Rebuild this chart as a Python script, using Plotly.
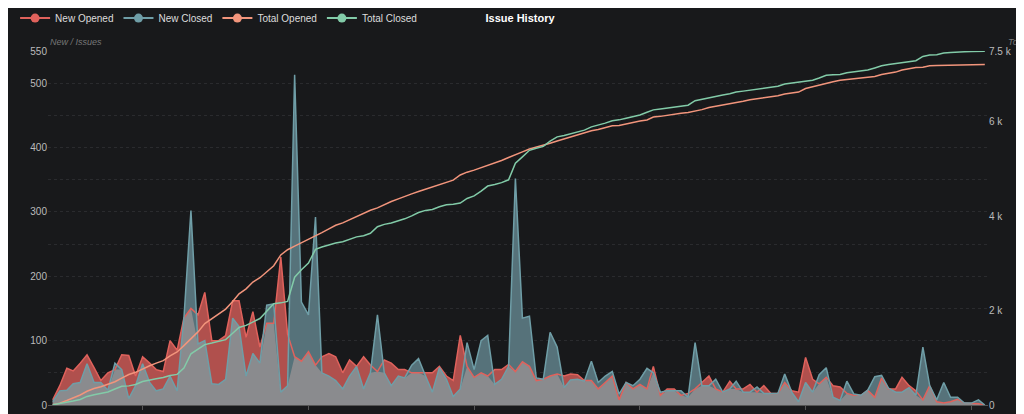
import plotly.graph_objects as go
import pandas as pd
import numpy as np

months = pd.date_range("2014-12-01", periods=136, freq="MS")
new_opened = [8,30,57,53,65,78,58,38,50,55,78,77,45,75,65,55,52,100,85,135,150,140,175,100,100,108,162,162,105,145,90,127,127,230,110,75,68,83,62,75,80,75,50,70,60,75,62,52,70,65,55,55,50,50,50,50,60,45,38,108,60,43,50,45,55,55,63,52,67,60,38,40,45,48,45,48,47,38,38,25,35,45,8,35,25,32,25,60,15,25,25,15,18,25,35,45,25,20,37,25,25,32,20,30,18,18,35,22,20,74,40,33,43,30,28,18,15,15,23,12,42,25,25,43,30,22,8,30,5,3,5,9,3,3,2,0]
new_closed = [5,22,23,33,35,64,35,35,23,65,55,10,30,64,35,22,25,45,22,135,302,95,100,33,32,40,135,122,45,80,65,155,157,20,30,513,160,140,292,50,45,38,25,45,60,25,50,140,50,30,45,42,62,72,45,20,58,40,13,25,97,55,100,108,32,40,60,352,135,138,42,40,113,90,27,39,40,37,68,35,45,52,17,35,30,40,57,50,20,22,22,22,12,97,30,30,40,20,25,37,20,20,28,18,18,18,48,20,5,35,20,47,58,12,7,37,17,15,23,44,46,26,20,20,27,15,90,30,8,35,12,12,3,3,8,0]
total_opened = np.cumsum(new_opened)
total_closed = np.cumsum(new_closed)
overlap = np.minimum(new_opened, new_closed)

RED = "#e0625c"; TEAL = "#6f9ea7"; SALMON = "#f2957c"; MINT = "#82cba8"
fig = go.Figure()
fig.add_trace(go.Scatter(x=months, y=new_opened, fill="tozeroy", mode="none", fillcolor="rgba(176,80,77,1)", showlegend=False, hoverinfo="skip"))
fig.add_trace(go.Scatter(x=months, y=new_closed, fill="tozeroy", mode="none", fillcolor="rgba(86,114,122,1)", showlegend=False, hoverinfo="skip"))
fig.add_trace(go.Scatter(x=months, y=overlap, fill="tozeroy", mode="none", fillcolor="rgba(138,139,142,1)", showlegend=False, hoverinfo="skip"))
fig.add_trace(go.Scatter(x=months, y=new_opened, mode="lines", line=dict(color=RED, width=1.5), showlegend=False))
fig.add_trace(go.Scatter(x=months, y=new_closed, mode="lines", line=dict(color=TEAL, width=1.5), showlegend=False))
fig.add_trace(go.Scatter(x=months, y=total_opened, mode="lines", line=dict(color=SALMON, width=1.5), yaxis="y2", showlegend=False))
fig.add_trace(go.Scatter(x=months, y=total_closed, mode="lines", line=dict(color=MINT, width=1.5), yaxis="y2", showlegend=False))
for name, c in [("New Opened", RED), ("New Closed", TEAL), ("Total Opened", SALMON), ("Total Closed", MINT)]:
    fig.add_trace(go.Scatter(x=[None], y=[None], mode="lines+markers", name=name, line=dict(color=c, width=2), marker=dict(color=c, size=9)))

left_ticks = list(range(0, 551, 50))
left_text = [str(v) if v % 100 == 0 or v == 550 else "" for v in left_ticks]
fig.update_layout(
    width=1024, height=414, paper_bgcolor="#18191b", plot_bgcolor="#18191b",
    margin=dict(l=40, r=44, t=43, b=17, autoexpand=False),
    font=dict(family="Liberation Sans, Arial", size=10, color="#cccccc"),
    title=dict(text="<b>Issue History</b>", x=0.5, xanchor="center", y=0.976, yanchor="middle", font=dict(size=11, color="#ffffff")),
    legend=dict(orientation="h", x=-0.035, xanchor="left", y=1.093, yanchor="middle", font=dict(size=10, color="#dddddd"), bgcolor="rgba(0,0,0,0)"),
    xaxis=dict(type="date", range=["2014-11-10", "2026-03-15"], tickvals=["2016-01-01","2018-01-01","2020-01-01","2022-01-01","2024-01-01","2026-01-01"], ticktext=["2016","2018","2020","2022","2024","2026"], showgrid=False, showline=True, linecolor="#555555", ticks="outside", tickcolor="#555555", ticklen=4, tickfont=dict(color="#bbbbbb"), automargin=False),
    yaxis=dict(range=[0, 550], tickvals=left_ticks, ticktext=left_text, gridcolor="#2a2b2e", griddash="dot", zeroline=False, tickfont=dict(color="#bbbbbb"), automargin=False),
    yaxis2=dict(range=[0, 7500], overlaying="y", side="right", tickvals=[0,2000,4000,6000,7500], ticktext=["0","2 k","4 k","6 k","7.5 k"], showgrid=False, zeroline=False, tickfont=dict(color="#bbbbbb"), automargin=False),
    annotations=[
        dict(text="<i>New / Issues</i>", xref="paper", yref="paper", x=0, y=1.0, yshift=16, xanchor="left", showarrow=False, font=dict(size=9, color="#777777")),
        dict(text="<i>Total / Issues</i>", xref="paper", yref="paper", x=1, xshift=18, y=1.0, yshift=16, xanchor="left", showarrow=False, font=dict(size=9, color="#777777")),
    ],
)
fig.write_html("out.html")
